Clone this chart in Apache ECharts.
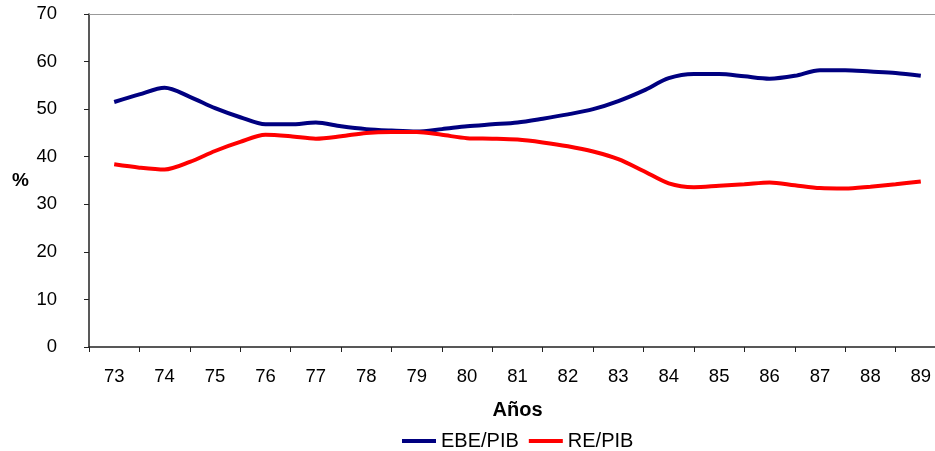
<!DOCTYPE html>
<html>
<head>
<meta charset="utf-8">
<script src="https://cdn.jsdelivr.net/npm/echarts@6/dist/echarts.min.js"></script>
<style>
    html, body { margin: 0; padding: 0; background: #fff; }
    #chart { width: 935px; height: 451px; }
</style>
</head>
<body>
<div id="chart"></div>
<script>
// años (etiquetas del eje X)
var years = ['73', '74', '75', '76', '77', '78', '79', '80', '81', '82', '83', '84', '85', '86', '87', '88', '89'];
// datos semestrales, desde 73.0 hasta 89.0
var halfYears = [73, 73.5, 74, 74.5, 75, 75.5, 76, 76.5, 77, 77.5, 78, 78.5, 79, 79.5, 80, 80.5,
    81, 81.5, 82, 82.5, 83, 83.5, 84, 84.5, 85, 85.5, 86, 86.5, 87, 87.5, 88, 88.5, 89];
var ebePib = [51.5, 53.1, 54.5, 52.6, 50.2, 48.3, 46.8, 46.8, 47.2, 46.4, 45.8, 45.5, 45.3, 45.8, 46.4, 46.8,
    47.2, 48.0, 48.9, 50.0, 51.7, 53.9, 56.5, 57.4, 57.4, 56.9, 56.4, 57.0, 58.2, 58.2, 57.9, 57.6, 57.0];
var rePib = [38.4, 37.7, 37.3, 38.9, 41.2, 43.1, 44.6, 44.3, 43.8, 44.3, 45.0, 45.2, 45.2, 44.6, 43.9, 43.8,
    43.6, 43.0, 42.2, 41.1, 39.5, 37.0, 34.4, 33.6, 33.9, 34.2, 34.6, 34.0, 33.4, 33.3, 33.7, 34.2, 34.8];
var yTicks = { min: 0, max: 70, step: 10 };

function pairs(xs, ys) {
    var out = [];
    for (var i = 0; i < xs.length; i++) out.push([xs[i], ys[i]]);
    return out;
}

var font = 'Liberation Sans, Arial, sans-serif';
var chart = echarts.init(document.getElementById('chart'));
chart.setOption({
    animation: false,
    textStyle: { fontFamily: font, color: '#000' },
    grid: { left: 89, right: -11, top: 14, bottom: 104, outerBoundsMode: 'none', containLabel: false },
    legend: {
        top: 426,
        left: 397,
        icon: 'rect',
        itemWidth: 34,
        itemHeight: 4,
        itemGap: 10,
        textStyle: { fontSize: 20, color: '#000', fontFamily: font },
        data: ['EBE/PIB', 'RE/PIB']
    },
    xAxis: [{
        // eje de etiquetas
        type: 'category',
        data: years,
        position: 'bottom',
        boundaryGap: true,
        name: 'Años',
        nameLocation: 'middle',
        nameGap: 53,
        nameTextStyle: { fontSize: 20, fontWeight: 'bold', color: '#000', fontFamily: font },
        axisLine: { lineStyle: { color: '#222', width: 1.5 } },
        axisTick: { show: true, interval: 0, length: 5, lineStyle: { color: '#222' } },
        axisLabel: { interval: 0, fontSize: 18.5, color: '#000', margin: 20, fontFamily: font },
        splitLine: { show: false }
    }, {
        // eje de valores para los datos semestrales (borde superior gris)
        type: 'value',
        min: 72.5,
        max: 89.5,
        position: 'top',
        axisLine: { show: true, lineStyle: { color: '#999', width: 1 } },
        axisTick: { show: false },
        axisLabel: { show: false },
        splitLine: { show: false }
    }],
    yAxis: {
        type: 'value',
        min: yTicks.min,
        max: yTicks.max,
        interval: yTicks.step,
        name: '%',
        nameLocation: 'middle',
        nameRotate: 0,
        nameGap: 60,
        nameTextStyle: { fontSize: 19, fontWeight: 'bold', color: '#000', fontFamily: font },
        axisLine: { show: true, lineStyle: { color: '#222', width: 1.5 } },
        axisTick: { show: true, length: 5, lineStyle: { color: '#222' } },
        axisLabel: { fontSize: 18.5, color: '#000', margin: 32, fontFamily: font },
        splitLine: { show: false }
    },
    series: [{
        name: 'EBE/PIB',
        type: 'line',
        xAxisIndex: 1,
        smooth: 0.3,
        symbol: 'none',
        itemStyle: { color: '#000080' },
        lineStyle: { color: '#000080', width: 4 },
        data: pairs(halfYears, ebePib)
    }, {
        name: 'RE/PIB',
        type: 'line',
        xAxisIndex: 1,
        smooth: 0.3,
        symbol: 'none',
        itemStyle: { color: '#ff0000' },
        lineStyle: { color: '#ff0000', width: 4 },
        data: pairs(halfYears, rePib)
    }]
});
</script>
</body>
</html>
